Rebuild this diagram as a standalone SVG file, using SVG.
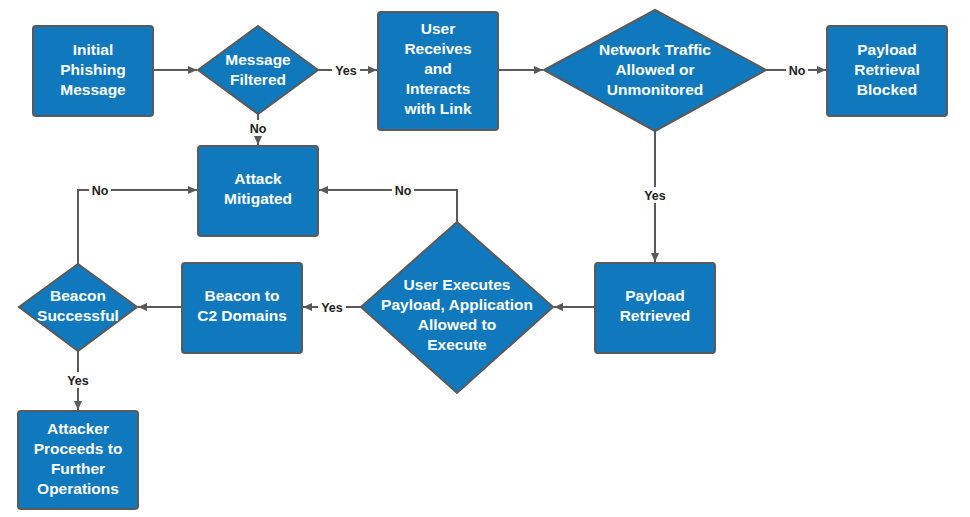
<svg xmlns="http://www.w3.org/2000/svg" width="970" height="517" viewBox="0 0 970 517">
<style>
.n{fill:#1079bd;stroke:#5a5a5a;stroke-width:2}
.t{fill:#fff;font-family:"Liberation Sans",Arial,sans-serif;font-weight:bold;font-size:15.5px;text-anchor:middle}
.c{fill:none;stroke:#5a5a5a;stroke-width:2;marker-end:url(#a)}
.l{fill:#222;font-family:"Liberation Sans",Arial,sans-serif;font-weight:bold;font-size:12.5px;text-anchor:middle}
.lb{fill:#fff}
</style>
<defs><marker id="a" markerWidth="10" markerHeight="10" refX="9" refY="5" orient="auto" markerUnits="userSpaceOnUse"><path d="M0,1 L9,5 L0,9 Z" fill="#5a5a5a"/></marker></defs>
<rect width="970" height="517" fill="#fff"/>
<g id="connectors">
<path class="c" d="M153,70H197"/>
<path class="c" d="M318,70H377"/>
<path class="c" d="M498,70H543"/>
<path class="c" d="M766,70H826"/>
<path class="c" d="M258,114V145"/>
<path class="c" d="M655,131V262"/>
<path class="c" d="M595,307H554"/>
<path class="c" d="M361,307H303"/>
<path class="c" d="M182,307H138"/>
<path class="c" d="M78,351V410"/>
<path class="c" d="M457,222V190H319"/>
<path class="c" d="M78,264V190H197"/>
<rect class="lb" x="332" y="62" width="28" height="16"/><text class="l" x="346" y="75">Yes</text>
<rect class="lb" x="786" y="62" width="22" height="16"/><text class="l" x="797" y="75">No</text>
<rect class="lb" x="247" y="120" width="22" height="16"/><text class="l" x="258" y="133">No</text>
<rect class="lb" x="641" y="187" width="28" height="16"/><text class="l" x="655" y="200">Yes</text>
<rect class="lb" x="318" y="299" width="28" height="16"/><text class="l" x="332" y="312">Yes</text>
<rect class="lb" x="64" y="372" width="28" height="16"/><text class="l" x="78" y="385">Yes</text>
<rect class="lb" x="392" y="182" width="22" height="16"/><text class="l" x="403" y="195">No</text>
<rect class="lb" x="89" y="182" width="22" height="16"/><text class="l" x="100" y="195">No</text>
</g>
<g id="initial"><rect class="n" x="33" y="26" width="120" height="90" rx="3"/><text class="t" x="93" y="55">Initial</text><text class="t" x="93" y="75">Phishing</text><text class="t" x="93" y="95">Message</text></g>
<g id="filtered"><path class="n" d="M258,26L318,70L258,114L198,70Z"/><text class="t" x="258" y="65">Message</text><text class="t" x="258" y="85">Filtered</text></g>
<g id="user"><rect class="n" x="378" y="12" width="120" height="118" rx="3"/><text class="t" x="438" y="34">User</text><text class="t" x="438" y="54">Receives</text><text class="t" x="438" y="74">and</text><text class="t" x="438" y="94">Interacts</text><text class="t" x="438" y="114">with Link</text></g>
<g id="network"><path class="n" d="M655,10L766,70L655,131L544,70Z"/><text class="t" x="655" y="55">Network Traffic</text><text class="t" x="655" y="75">Allowed or</text><text class="t" x="655" y="95">Unmonitored</text></g>
<g id="blocked"><rect class="n" x="827" y="26" width="120" height="90" rx="3"/><text class="t" x="887" y="55">Payload</text><text class="t" x="887" y="75">Retrieval</text><text class="t" x="887" y="95">Blocked</text></g>
<g id="mitigated"><rect class="n" x="198" y="146" width="120" height="90" rx="3"/><text class="t" x="258" y="184">Attack</text><text class="t" x="258" y="204">Mitigated</text></g>
<g id="retrieved"><rect class="n" x="595" y="263" width="120" height="90" rx="3"/><text class="t" x="655" y="301">Payload</text><text class="t" x="655" y="321">Retrieved</text></g>
<g id="executes"><path class="n" d="M457,222L553,307L457,393L361,307Z"/><text class="t" x="457" y="290">User Executes</text><text class="t" x="457" y="310">Payload, Application</text><text class="t" x="457" y="330">Allowed to</text><text class="t" x="457" y="350">Execute</text></g>
<g id="c2"><rect class="n" x="182" y="263" width="120" height="90" rx="3"/><text class="t" x="242" y="301">Beacon to</text><text class="t" x="242" y="321">C2 Domains</text></g>
<g id="beacon"><path class="n" d="M78,264L137,307L78,351L19,307Z"/><text class="t" x="78" y="301">Beacon</text><text class="t" x="78" y="321">Successful</text></g>
<g id="attacker"><rect class="n" x="18" y="411" width="120" height="98" rx="3"/><text class="t" x="78" y="434">Attacker</text><text class="t" x="78" y="454">Proceeds to</text><text class="t" x="78" y="474">Further</text><text class="t" x="78" y="494">Operations</text></g>
</svg>
